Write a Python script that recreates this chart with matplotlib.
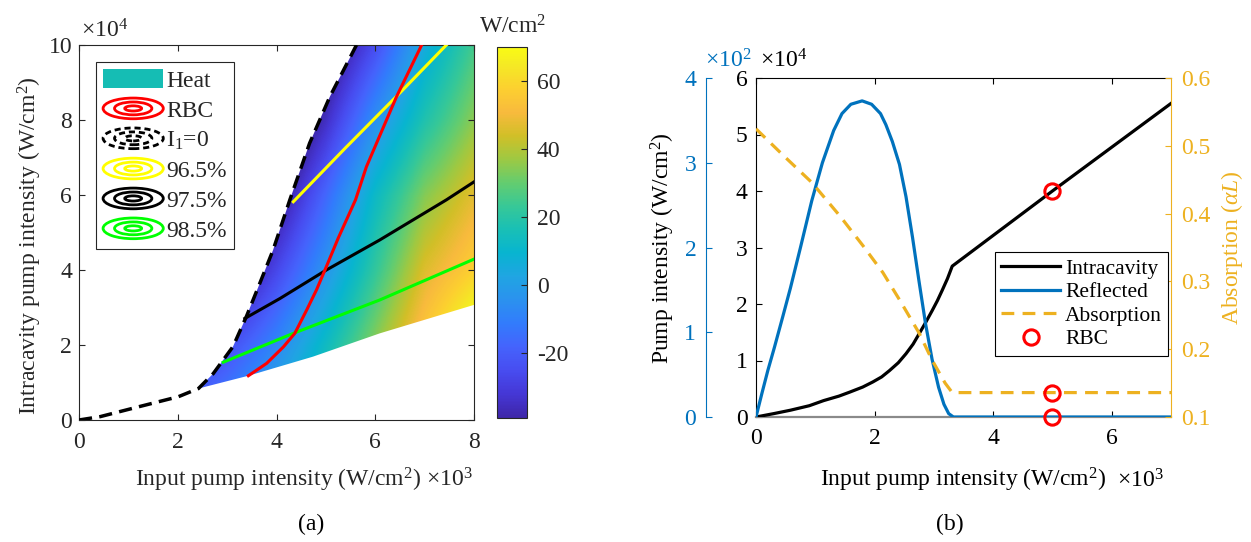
import numpy as np
import matplotlib
matplotlib.use("Agg")
import matplotlib.pyplot as plt
from matplotlib.colors import LinearSegmentedColormap
from matplotlib.patches import Polygon, Patch, Ellipse
from matplotlib.legend_handler import HandlerBase
from matplotlib.lines import Line2D

# ---------------- data: panel (a) ----------------
# I1 = 0 boundary (dashed), x in 1e3 W/cm^2, y in 1e4 W/cm^2
i1_x = [0, 0.43, 1.23, 2.01, 2.42, 2.72, 3.12, 3.39, 3.66, 3.93, 4.27, 4.67, 5.08, 5.62]
i1_y = [0, 0.09, 0.36, 0.62, 0.84, 1.24, 1.96, 2.76, 3.64, 4.53, 5.87, 7.38, 8.62, 10.0]
# lower boundary of the heat region
low_x = [2.42, 3.43, 4.74, 6.09, 8.0]
low_y = [0.84, 1.18, 1.69, 2.31, 3.07]
# RBC contour
rbc_x = [3.43, 3.80, 4.14, 4.37, 4.61, 4.81, 5.01, 5.25, 5.60, 5.82, 6.43, 6.94]
rbc_y = [1.18, 1.51, 1.95, 2.31, 2.93, 3.47, 4.09, 4.85, 5.87, 6.75, 8.62, 10.0]
# reflectivity contours
r965_x = [4.34, 5.40, 6.46, 7.44]
r965_y = [5.82, 7.26, 8.67, 10.0]
r975_x = [3.36, 4.07, 5.01, 6.09, 7.44, 8.0]
r975_y = [2.71, 3.24, 4.00, 4.80, 5.87, 6.35]
r985_x = [2.92, 4.34, 6.09, 8.0]
r985_y = [1.54, 2.31, 3.20, 4.29]
# heat field (W/cm^2) sampled on a coarse grid (x step 1, y step 2)
heat_x = [2, 3, 4, 5, 6, 7, 8]
heat_y = [0, 2, 4, 6, 8, 10]
heat = [
    [-20, -5, 10, 25, 40, 55, 70],
    [-35, -25, -8, 13, 35, 57, 78],
    [-65, -50, -27, -3, 22, 46, 58],
    [-90, -70, -45, -17, 12, 34, 47],
    [-110, -85, -60, -35, -5, 18, 35],
    [-130, -100, -75, -50, -25, 5, 25],
]
heat_min, heat_max = -39, 70
cbar_ticks = [-20, 0, 20, 40, 60]

# ---------------- data: panel (b) ----------------
int_x = [0, 0.3, 0.58, 0.9, 1.14, 1.4, 1.58, 1.8, 1.97, 2.12, 2.25, 2.4, 2.53, 2.65,
         2.75, 2.86, 2.97, 3.06, 3.14, 3.23, 3.31, 5.0, 7.0]
int_y = [0, 0.06, 0.12, 0.2, 0.29, 0.37, 0.44, 0.53, 0.62, 0.71, 0.82, 0.96, 1.12, 1.29,
         1.47, 1.67, 1.88, 2.06, 2.24, 2.45, 2.67, 4.0, 5.55]   # x1e4
ref_x = [0, 0.1, 0.2, 0.31, 0.45, 0.58, 0.75, 0.94, 1.12, 1.31, 1.45, 1.6, 1.79, 1.95,
         2.1, 2.19, 2.3, 2.42, 2.53, 2.64, 2.75, 2.86, 2.97, 3.08, 3.17, 3.25, 3.33, 7.0]
ref_y = [0, 0.28, 0.55, 0.82, 1.18, 1.52, 2.0, 2.55, 3.0, 3.38, 3.58, 3.69, 3.73, 3.69,
         3.58, 3.45, 3.25, 2.98, 2.60, 2.12, 1.60, 1.10, 0.68, 0.35, 0.15, 0.04, 0, 0]  # x1e2
abs_x = [0, 0.47, 0.94, 1.42, 1.81, 2.14, 2.42, 2.75, 2.97, 3.19, 3.31, 7.0]
abs_y = [0.525, 0.485, 0.446, 0.396, 0.352, 0.313, 0.273, 0.224, 0.184, 0.150, 0.136, 0.136]
rbc_in = 5.0
rbc_int, rbc_ref, rbc_abs = 4.0, 0.0, 0.136

# ---------------- style ----------------
plt.rcParams['font.family'] = ['Liberation Serif', 'DejaVu Serif']
plt.rcParams['mathtext.fontset'] = 'custom'
plt.rcParams['mathtext.rm'] = 'Liberation Serif'
plt.rcParams['mathtext.it'] = 'Liberation Serif:italic'
plt.rcParams['mathtext.bf'] = 'Liberation Serif:bold'
plt.rcParams['axes.unicode_minus'] = False

parula_pts = [
    (0.2422, 0.1504, 0.6603), (0.2706, 0.2147, 0.8364), (0.2813, 0.3006, 0.9414),
    (0.2699, 0.3892, 0.9906), (0.1963, 0.4847, 0.9892), (0.1687, 0.5703, 0.9359),
    (0.1248, 0.6459, 0.8883), (0.0297, 0.7082, 0.8163), (0.0964, 0.7500, 0.7120),
    (0.2161, 0.7843, 0.5923), (0.3909, 0.8029, 0.4354), (0.6174, 0.7876, 0.2612),
    (0.8203, 0.7498, 0.1535), (0.9728, 0.7298, 0.2394), (0.9892, 0.8136, 0.1885),
    (0.9597, 0.9135, 0.1423), (0.9769, 0.9839, 0.0805)]
pos = [i * 4 / 63 for i in range(16)] + [1.0]
parula = LinearSegmentedColormap.from_list('parula', list(zip(pos, parula_pts)))

FS = 17
DARK = '#262626'
BLUE = '#0072BD'
ORANGE = '#EDB120'

W, H = 1251, 542
fig = plt.figure(figsize=(W / 100, H / 100), dpi=100)


def add_px(l, t, r, b):
    return fig.add_axes([l / W, 1 - b / H, (r - l) / W, (b - t) / H])


def fx(x):
    return x / W


def fy(y):
    return 1 - y / H


# ================= panel (a) =================
ax = add_px(79, 45, 474, 420)
dx = heat_x[1] - heat_x[0]
dy = heat_y[1] - heat_y[0]
img = ax.imshow(np.array(heat, float), origin='lower', aspect='auto', cmap=parula,
                vmin=heat_min, vmax=heat_max, interpolation='bilinear',
                interpolation_stage='data',
                extent=(heat_x[0] - dx / 2, heat_x[-1] + dx / 2,
                        heat_y[0] - dy / 2, heat_y[-1] + dy / 2), zorder=1)
ax.set_xlim(0, 8)
ax.set_ylim(0, 10)
k0 = i1_x.index(2.42)
region = list(zip(i1_x[k0:], i1_y[k0:])) + [(8, 10)] + list(zip(low_x[::-1], low_y[::-1]))
poly = Polygon(region, closed=True, facecolor='none', edgecolor='none', transform=ax.transData)
ax.add_patch(poly)
img.set_clip_path(poly)

ax.plot(r985_x, r985_y, color='#00FF00', lw=2.2, zorder=3)
ax.plot(r975_x, r975_y, color='black', lw=2.2, zorder=3)
ax.plot(r965_x, r965_y, color='#FFFF00', lw=2.2, zorder=3)
ax.plot(rbc_x, rbc_y, color='red', lw=2.2, zorder=3)
ax.plot(i1_x, i1_y, color='black', lw=2.5, ls=(0, (3.8, 2.1)), zorder=4)

ax.set_xticks([0, 2, 4, 6, 8])
ax.set_yticks([0, 2, 4, 6, 8, 10])
ax.tick_params(direction='in', top=True, right=True, length=4, width=0.8,
               labelsize=FS, colors=DARK)
ax.tick_params(axis='x', pad=9)
ax.tick_params(axis='y', pad=5)
for s in ax.spines.values():
    s.set_color(DARK)
    s.set_linewidth(0.8)

fig.text(fx(81), fy(38), '×10$^4$', fontsize=FS, color=DARK, ha='left', va='baseline')
fig.text(fx(30), fy(246), 'Intracavity pump intensity (W/cm$^2$)', fontsize=FS, color=DARK,
         rotation=90, ha='center', va='center')
fig.text(fx(304), fy(487), 'Input pump intensity (W/cm$^2$) ×10$^3$', fontsize=FS, color=DARK,
         ha='center', va='baseline')
fig.text(fx(311), fy(530), '(a)', fontsize=FS, color='black', ha='center', va='baseline')

# colorbar
cax = add_px(497, 47, 527, 418)
cb = fig.colorbar(img, cax=cax)
cb.set_ticks(cbar_ticks)
cax.tick_params(direction='in', length=4, width=0.8, labelsize=FS, colors=DARK, pad=7)
cb.outline.set_edgecolor(DARK)
cb.outline.set_linewidth(0.8)
fig.text(fx(513), fy(33), 'W/cm$^2$', fontsize=FS, color=DARK, ha='center', va='baseline')


# legend with contour-like icons
class ContourIcon:
    def __init__(self, color, ls='-'):
        self.color = color
        self.ls = ls


class ContourHandler(HandlerBase):
    def create_artists(self, legend, orig, xdescent, ydescent, width, height, fontsize, trans):
        cx = width / 2 - xdescent
        cy = height / 2 - ydescent
        arts = []
        for fw, fh in ((1.0, 1.0), (0.62, 0.62), (0.28, 0.25)):
            e = Ellipse((cx, cy), width * fw, height * 1.1 * fh, fill=False,
                        edgecolor=orig.color, lw=2.0,
                        ls=(0, (2.2, 1.4)) if orig.ls == '--' else '-', transform=trans)
            arts.append(e)
        return arts


leg_handles = [Patch(facecolor='#15BDB4', edgecolor='none'),
               ContourIcon('red'), ContourIcon('black', '--'), ContourIcon('#FFFF00'),
               ContourIcon('black'), ContourIcon('#00FF00')]
leg_labels = ['Heat', 'RBC', 'I$_1$=0', '96.5%', '97.5%', '98.5%']
leg = ax.legend(leg_handles, leg_labels, loc='upper left', bbox_to_anchor=(fx(96), fy(62)),
                bbox_transform=fig.transFigure, borderaxespad=0, fontsize=FS,
                handler_map={ContourIcon: ContourHandler()}, handlelength=2.55,
                handleheight=0.85, handletextpad=0.12, labelspacing=0.31, borderpad=0.3,
                fancybox=False, framealpha=1, edgecolor=DARK)
leg.get_frame().set_linewidth(0.8)
for t in leg.get_texts():
    t.set_color(DARK)

# ================= panel (b) =================
axr = add_px(756, 78, 1171, 417)
axr.set_xlim(0, 7)
axr.set_ylim(0, 6)
axb = axr.twinx()
axb.set_ylim(0, 4)
axa = axr.twinx()
axa.set_ylim(0.1, 0.6)

axr.plot(int_x, int_y, color='black', lw=2.3, zorder=3)
axb.plot(ref_x, ref_y, color=BLUE, lw=2.3, zorder=3)
axa.plot(abs_x, abs_y, color=ORANGE, lw=2.3, ls=(0, (4.0, 2.6)), zorder=3)
mk = dict(marker='o', ms=11, mfc='none', mec='red', mew=2.2, ls='none', clip_on=False, zorder=5)
axr.plot([rbc_in], [rbc_int], **mk)
axb.plot([rbc_in], [rbc_ref], **mk)
axa.plot([rbc_in], [rbc_abs], **mk)

# main axis
axr.set_xticks([0, 2, 4, 6])
axr.set_yticks([0, 1, 2, 3, 4, 5, 6])
axr.tick_params(axis='x', direction='in', top=True, bottom=True, length=4, width=0.8,
                labelsize=FS, colors='black', pad=8)
axr.tick_params(axis='y', direction='in', left=True, right=False, length=4, width=0.8,
                labelsize=FS, colors='black', pad=6)
axr.spines['right'].set_visible(False)
axr.spines['left'].set_color('black')
axr.spines['top'].set_color('black')
axr.spines['bottom'].set_color('#8a8a8a')
axr.spines['bottom'].set_linewidth(1.6)
for s in ('left', 'top'):
    axr.spines[s].set_linewidth(0.8)

# blue axis (offset left)
for s in ('right', 'top', 'bottom'):
    axb.spines[s].set_visible(False)
axb.spines['left'].set_visible(True)
axb.spines['left'].set_position(('outward', 36))
axb.spines['left'].set_color(BLUE)
axb.spines['left'].set_linewidth(0.8)
axb.yaxis.set_ticks_position('left')
axb.yaxis.set_label_position('left')
axb.set_yticks([0, 1, 2, 3, 4])
axb.tick_params(axis='y', direction='in', length=4, width=0.8, labelsize=FS,
                colors=BLUE, pad=7)

# absorption axis (right)
for s in ('left', 'top', 'bottom'):
    axa.spines[s].set_visible(False)
axa.spines['right'].set_color(ORANGE)
axa.spines['right'].set_linewidth(0.8)
axa.set_yticks([0.1, 0.2, 0.3, 0.4, 0.5, 0.6])
axa.set_yticklabels(['0.1', '0.2', '0.3', '0.4', '0.5', '0.6'])
axa.tick_params(axis='y', direction='in', length=4, width=0.8, labelsize=FS,
                colors=ORANGE, pad=7)

fig.text(fx(705), fy(67), '×10$^2$', fontsize=FS, color=BLUE, ha='left', va='baseline')
fig.text(fx(760), fy(67), '×10$^4$', fontsize=FS, color='black', ha='left', va='baseline')
fig.text(fx(663), fy(248), 'Pump intensity (W/cm$^2$)', fontsize=FS, color='black',
         rotation=90, ha='center', va='center')
fig.text(fx(1232), fy(248), 'Absorption ($\\alpha L$)', fontsize=FS, color=ORANGE,
         rotation=90, ha='center', va='center')
fig.text(fx(820), fy(487), 'Input pump intensity (W/cm$^2$)', fontsize=FS, color='black',
         ha='left', va='baseline')
fig.text(fx(1117), fy(487), '×10$^3$', fontsize=FS, color='black', ha='left', va='baseline')
fig.text(fx(950), fy(530), '(b)', fontsize=FS, color='black', ha='center', va='baseline')

rh = [Line2D([], [], color='black', lw=2.3),
      Line2D([], [], color=BLUE, lw=2.3),
      Line2D([], [], color=ORANGE, lw=2.3, ls=(0, (4.0, 2.6))),
      Line2D([], [], marker='o', ms=11, mfc='none', mec='red', mew=2.2, ls='none')]
rl = ['Intracavity', 'Reflected', 'Absorption', 'RBC']
leg2 = axa.legend(rh, rl, loc='upper left', bbox_to_anchor=(fx(995), fy(252)),
                  bbox_transform=fig.transFigure, borderaxespad=0, fontsize=15.5,
                  handlelength=2.7, handletextpad=0.25, labelspacing=0.16, borderpad=0.3,
                  fancybox=False, framealpha=1, edgecolor='black', numpoints=1)
leg2.get_frame().set_linewidth(0.8)

fig.savefig('out.png', dpi=100)
